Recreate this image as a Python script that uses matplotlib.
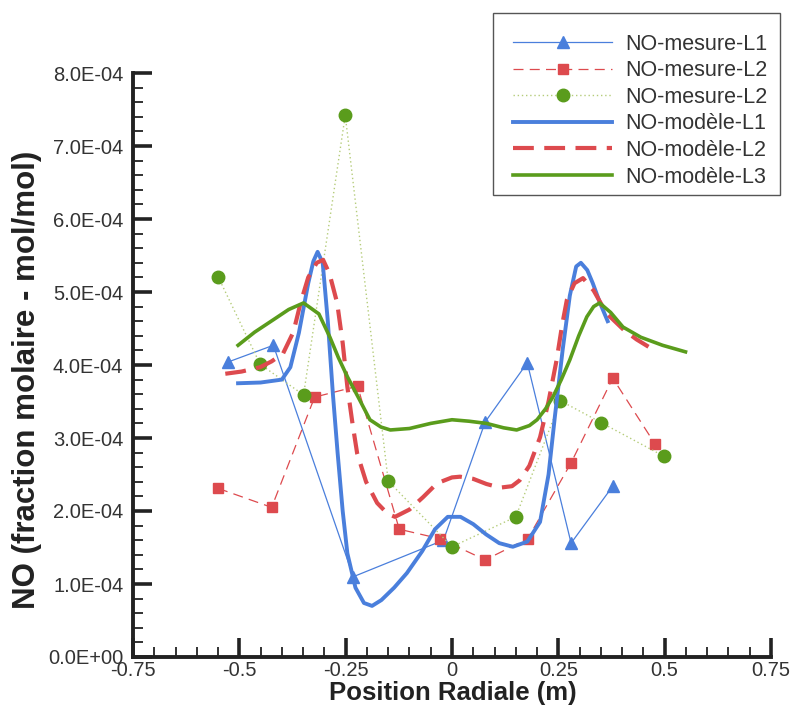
import matplotlib
matplotlib.use("Agg")
import matplotlib.pyplot as plt
from matplotlib.ticker import MultipleLocator, FixedLocator
from matplotlib.patches import Rectangle

plt.rcParams['font.family'] = ['Liberation Sans', 'DejaVu Sans']

# measured points (x in m, y in 1E-4 mol/mol)
mes1_x = [-0.527, -0.42, -0.232, -0.02, 0.078, 0.177, 0.28, 0.378]
mes1_y = [4.04, 4.27, 1.10, 1.60, 3.22, 4.03, 1.56, 2.34]

mes2_x = [-0.55, -0.424, -0.323, -0.222, -0.124, -0.028, 0.078, 0.178, 0.28, 0.378, 0.477]
mes2_y = [2.31, 2.05, 3.56, 3.71, 1.75, 1.62, 1.33, 1.62, 2.66, 3.82, 2.92]

mes3_x = [-0.55, -0.451, -0.349, -0.251, -0.15, 0.0, 0.15, 0.255, 0.351, 0.498]
mes3_y = [5.21, 4.01, 3.59, 7.42, 2.41, 1.51, 1.92, 3.51, 3.21, 2.75]

# model curves
mod1_x = [-0.503, -0.45, -0.40, -0.38, -0.36, -0.338, -0.326, -0.316, -0.304, -0.292,
          -0.28, -0.269, -0.257, -0.246, -0.227, -0.207, -0.188, -0.166, -0.136, -0.106,
          -0.07, -0.04, -0.01, 0.02, 0.05, 0.08, 0.111, 0.143, 0.177, 0.207,
          0.227, 0.242, 0.26, 0.277, 0.292, 0.303, 0.318, 0.331, 0.348, 0.366]
mod1_y = [3.75, 3.76, 3.80, 3.97, 4.44, 5.12, 5.42, 5.55, 5.40, 4.60,
          3.60, 2.80, 2.00, 1.42, 0.95, 0.74, 0.70, 0.78, 0.95, 1.15,
          1.45, 1.75, 1.92, 1.92, 1.82, 1.68, 1.56, 1.51, 1.58, 1.85,
          2.50, 3.30, 4.20, 4.95, 5.35, 5.40, 5.30, 5.12, 4.85, 4.60]

mod2_x = [-0.533, -0.495, -0.451, -0.424, -0.397, -0.373, -0.356, -0.338, -0.318, -0.303,
          -0.288, -0.27, -0.257, -0.246, -0.234, -0.223, -0.202, -0.176, -0.151, -0.134,
          -0.10, -0.068, -0.035, 0.0, 0.019, 0.05, 0.081, 0.113, 0.141, 0.159,
          0.182, 0.207, 0.227, 0.246, 0.259, 0.27, 0.288, 0.308, 0.333, 0.363,
          0.404, 0.434, 0.462]
mod2_y = [3.88, 3.91, 3.97, 4.05, 4.16, 4.45, 4.85, 5.20, 5.40, 5.44,
          5.25, 4.85, 4.30, 3.70, 3.20, 2.79, 2.40, 2.11, 1.96, 1.92,
          2.02, 2.19, 2.38, 2.46, 2.47, 2.44, 2.37, 2.32, 2.34, 2.42,
          2.62, 3.01, 3.50, 4.07, 4.55, 4.89, 5.12, 5.19, 5.02, 4.71,
          4.48, 4.35, 4.25]

mod3_x = [-0.503, -0.464, -0.42, -0.384, -0.349, -0.313, -0.287, -0.267, -0.246, -0.217,
          -0.193, -0.167, -0.145, -0.10, -0.05, 0.0, 0.04, 0.081, 0.121, 0.152,
          0.182, 0.2, 0.22, 0.237, 0.257, 0.277, 0.298, 0.317, 0.333, 0.347,
          0.373, 0.402, 0.444, 0.495, 0.549]
mod3_y = [4.27, 4.45, 4.62, 4.76, 4.85, 4.70, 4.38, 4.10, 3.84, 3.52,
          3.25, 3.15, 3.11, 3.13, 3.20, 3.25, 3.23, 3.20, 3.14, 3.11,
          3.17, 3.25, 3.40, 3.56, 3.80, 4.07, 4.40, 4.66, 4.80, 4.85,
          4.72, 4.52, 4.38, 4.27, 4.18]

xticks = [-0.75, -0.5, -0.25, 0, 0.25, 0.5, 0.75]
xticklabels = ['-0.75', '-0.5', '-0.25', '0', '0.25', '0.5', '0.75']
yticks = [0, 1, 2, 3, 4, 5, 6, 7, 8]
yticklabels = ['0.0E+00', '1.0E-04', '2.0E-04', '3.0E-04', '4.0E-04',
               '5.0E-04', '6.0E-04', '7.0E-04', '8.0E-04']

blue = '#4a7fdc'
red = '#dd4a4e'
green = '#5a9c1c'

def sc(v):
    return [a * 1e-4 for a in v]

W, H = 793, 706
fig = plt.figure(figsize=(W / 100, H / 100), dpi=100)
ax = fig.add_axes([133/W, 1 - 657/H, 638/W, 584/H])

l1, = ax.plot(mes1_x, sc(mes1_y), color=blue, lw=0.9, marker='^', ms=8,
              label='NO-mesure-L1')
l2, = ax.plot(mes2_x, sc(mes2_y), color=red, lw=0.9, dashes=(8, 5), marker='s', ms=7,
              label='NO-mesure-L2')
l3, = ax.plot(mes3_x, sc(mes3_y), color='#b5cc7a', lw=1.0, ls=(0, (1, 2)), marker='o', ms=9,
              mfc=green, mec=green, label='NO-mesure-L2')
m1, = ax.plot(mod1_x, sc(mod1_y), color=blue, lw=2.8, label='NO-modèle-L1')
m2, = ax.plot(mod2_x, sc(mod2_y), color=red, lw=3.0, dashes=(5, 2.5), label='NO-modèle-L2')
m3, = ax.plot(mod3_x, sc(mod3_y), color=green, lw=2.6, label='NO-modèle-L3')

ax.set_xlim(-0.75, 0.75)
ax.set_ylim(0, 8e-4)
ax.xaxis.set_major_locator(FixedLocator(xticks))
ax.set_xticklabels(xticklabels)
ax.xaxis.set_minor_locator(MultipleLocator(0.05))
ax.yaxis.set_major_locator(FixedLocator([v * 1e-4 for v in yticks]))
ax.set_yticklabels(yticklabels)
ax.yaxis.set_minor_locator(MultipleLocator(0.2e-4))

for s in ['top', 'right']:
    ax.spines[s].set_visible(False)
for s in ['left', 'bottom']:
    ax.spines[s].set_linewidth(2.8)
    ax.spines[s].set_color('#222222')
ax.tick_params(which='major', direction='in', length=14, width=2.6, color='#222222',
               labelsize=14.5, labelcolor='#333333')
ax.tick_params(which='minor', direction='in', length=7.5, width=1.3, color='#222222')
ax.tick_params(axis='y', pad=7)
ax.tick_params(axis='x', pad=3)
ax.patch.set_visible(False)

ax.set_xlabel('Position Radiale (m)', fontsize=18.5, fontweight='bold', color='#222222')
ax.set_ylabel('NO (fraction molaire - mol/mol)', fontsize=22.5, fontweight='bold', color='#222222')
ax.xaxis.set_label_coords(453/W, 1 - 681/H, transform=fig.transFigure)
ax.yaxis.set_label_coords(42/W, 1 - 380/H, transform=fig.transFigure)

# legend box
fig.add_artist(Rectangle((493/W, 1 - 195/H), 287/W, 182/H, transform=fig.transFigure,
                         facecolor='white', edgecolor='#555555', lw=1.0, zorder=4))
leg = fig.legend(handles=[l1, l2, l3, m1, m2, m3], loc='upper right',
                 bbox_to_anchor=(776/W, 1 - 25/H), borderaxespad=0, fontsize=15.5,
                 handlelength=4.6, frameon=False, borderpad=0.4, labelspacing=0.26,
                 handletextpad=0.6)
leg.set_zorder(5)
for t in leg.get_texts():
    t.set_color('#333333')

fig.savefig('out.png', dpi=100)
